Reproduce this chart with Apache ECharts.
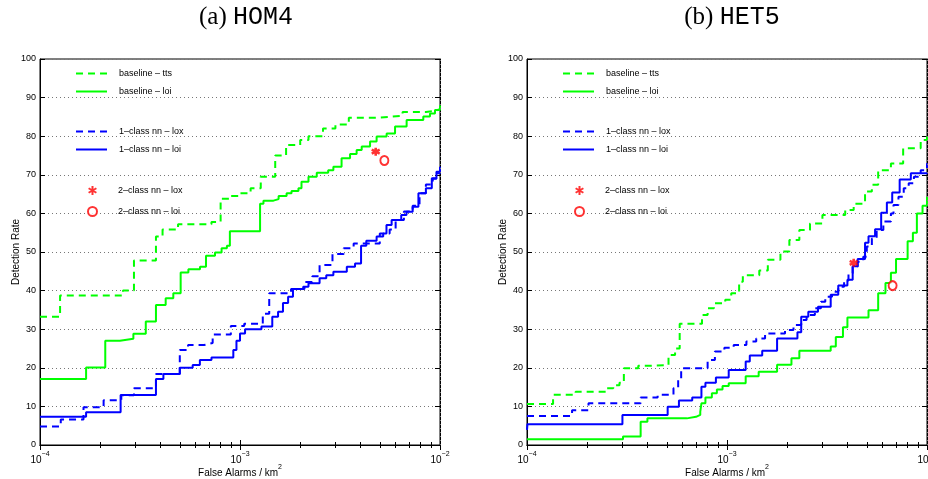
<!DOCTYPE html>
<html>
<head>
<meta charset="utf-8">
<script src="https://cdn.jsdelivr.net/npm/echarts@6/dist/echarts.min.js"></script>
<style>
html, body { margin: 0; padding: 0; background: #fff; }
#box { width: 928px; height: 479px; }
</style>
</head>
<body>
<div id="box"></div>
<script>
// 纵轴刻度 和 竖向网格线位置
var yTicks = [0, 10, 20, 30, 40, 50, 60, 70, 80, 90, 100];
var xGrid = [2e-4, 3e-4, 4e-4, 5e-4, 6e-4, 7e-4, 8e-4, 9e-4, 1e-3,
             2e-3, 3e-3, 4e-3, 5e-3, 6e-3, 7e-3, 8e-3, 9e-3];

// (a) HOM4  —— [虚警, 检测率]
var a_tts = [[1e-4,33.2],[1.26e-4,38.7],[2.6e-4,40],[2.95e-4,47.8],[3.8e-4,54],[4.1e-4,55.8],[4.9e-4,57.2],
  [7.2e-4,57.8],[8.0e-4,63.8],[9.0e-4,64.5],[1.0e-3,65.2],[1.13e-3,66.5],[1.27e-3,69.5],[1.5e-3,75],[1.7e-3,77.7],
  [2.0e-3,79],[2.2e-3,80],[2.6e-3,82],[3.0e-3,83],[3.5e-3,84.8],[5.0e-3,85.3],[6.5e-3,86.3],[8.5e-3,86.5],
  [9.3e-3,87],[1e-2,88]];
var a_loi = [[1e-4,17.1],[1.7e-4,20.1],[2.12e-4,27],[2.51e-4,27.5],[2.93e-4,28.8],[3.38e-4,32],[3.8e-4,36.3],
  [4.25e-4,38],[4.64e-4,39.3],[5.05e-4,44.7],[5.52e-4,45.5],[6.31e-4,46.2],[6.76e-4,49],[7.5e-4,49.9],[8.09e-4,51],
  [8.6e-4,51.6],[8.9e-4,55.4],[1.26e-3,62.5],[1.31e-3,63.3],[1.47e-3,63.7],[1.56e-3,64.5],[1.71e-3,65.2],
  [1.81e-3,65.8],[1.96e-3,66.5],[2.03e-3,68.2],[2.2e-3,69.5],[2.42e-3,70.5],[2.76e-3,71.2],[2.93e-3,72.1],
  [3.22e-3,74.3],[3.55e-3,75.4],[3.83e-3,76.4],[4.06e-3,77.3],[4.47e-3,78.6],[4.82e-3,79.9],[5.41e-3,80.7],
  [5.96e-3,82.5],[6.81e-3,84.2],[8.25e-3,85.1],[8.91e-3,85.9],[9.44e-3,86.8],[1e-2,87.9]];
var a_nnLox = [[1e-4,4.8],[1.27e-4,6.6],[1.65e-4,9.8],[2.08e-4,11.6],[2.55e-4,12.9],[2.95e-4,14.7],[3.8e-4,18.4],
  [5.0e-4,24.6],[5.5e-4,25.9],[6.6e-4,26.4],[7.3e-4,28.6],[9.0e-4,30.8],[1.05e-3,31.4],[1.3e-3,34],[1.4e-3,39.3],
  [1.8e-3,40.4],[2.1e-3,42.2],[2.3e-3,43.7],[2.5e-3,46.6],[2.9e-3,49.5],[3.3e-3,51],[3.7e-3,52.2],[5.0e-3,54.8],
  [5.6e-3,55.8],[6.0e-3,58.3],[6.6e-3,60.5],[7.3e-3,62],[7.9e-3,65.2],[8.5e-3,67.5],[9.2e-3,69],[9.6e-3,70.4],
  [1e-2,72]];
var a_nnLoi = [[1e-4,7.3],[1.7e-4,8.5],[2.53e-4,12.95],[3.8e-4,17.1],[4.14e-4,18.4],[5.0e-4,20],[5.8e-4,20.7],
  [6.3e-4,22],[7.2e-4,22.7],[9.26e-4,24.6],[9.6e-4,27],[1.0e-3,28.9],[1.06e-3,30],[1.28e-3,30.7],[1.45e-3,33.2],
  [1.55e-3,34.5],[1.64e-3,36.8],[1.74e-3,38.4],[1.84e-3,40.4],[2.07e-3,41],[2.2e-3,41.9],[2.5e-3,43.2],
  [2.7e-3,44],[2.93e-3,44.9],[3.42e-3,46.2],[3.76e-3,47],[4.03e-3,51.6],[4.28e-3,52.9],[4.82e-3,54],
  [5.2e-3,54.8],[5.4e-3,57],[5.73e-3,58.3],[6.4e-3,59.6],[6.8e-3,60.4],[7.3e-3,61.7],[7.8e-3,65.2],
  [8.5e-3,66.5],[9.1e-3,69.1],[9.6e-3,70.8],[1e-2,72.1]];
var a_2cLox = [[4.77e-3, 76.0]];
var a_2cLoi = [[5.27e-3, 73.7]];

// (b) HET5
var b_tts = [[1e-4,10.6],[1.35e-4,13],[1.75e-4,13.8],[2.5e-4,14.7],[2.7e-4,15.5],[2.9e-4,16.1],[3.05e-4,19.9],
  [3.6e-4,20.5],[4.0e-4,20.7],[5.1e-4,23.3],[5.5e-4,25],[5.8e-4,31.4],[7.5e-4,33.7],[8.0e-4,35.4],[8.6e-4,36.7],
  [9.8e-4,37.6],[1.05e-3,39.3],[1.15e-3,42.3],[1.2e-3,44],[1.45e-3,45.2],[1.6e-3,48],[1.85e-3,50.1],
  [2.05e-3,53.1],[2.3e-3,55.7],[2.6e-3,57.4],[3.0e-3,59.6],[3.9e-3,60.9],[4.3e-3,62.5],[4.9e-3,65.7],
  [5.3e-3,67.4],[5.7e-3,71.2],[6.6e-3,72.9],[7.6e-3,76.9],[9.3e-3,79],[1e-2,80]];
var b_loi = [[1e-4,1.5],[3.02e-4,2.2],[3.7e-4,6.0],[4.0e-4,6.9],[6.3e-4,7.3],[7.0e-4,7.8],[7.35e-4,8.6],
  [7.45e-4,10.8],[7.8e-4,12.3],[8.4e-4,13.4],[8.9e-4,14.4],[9.5e-4,15.3],[1.02e-3,16],[1.24e-3,17.8],
  [1.44e-3,19],[1.78e-3,20.8],[2.1e-3,22.5],[2.3e-3,24.4],[3.3e-3,25.5],[3.5e-3,28],[3.8e-3,30.5],[4.0e-3,33],
  [5.1e-3,34.9],[5.7e-3,39.3],[6.2e-3,42],[6.6e-3,44.6],[7.0e-3,48.2],[8.0e-3,52.8],[8.5e-3,55],[8.9e-3,60],
  [9.5e-3,62],[1e-2,64.3]];
var b_nnLox = [[1e-4,7.5],[1.68e-4,9.0],[2.03e-4,10.8],[3.7e-4,12.3],[4.5e-4,13.0],[5.4e-4,14.7],[5.7e-4,17],
  [5.9e-4,19.9],[8.0e-4,22],[8.7e-4,24.2],[9.7e-4,25.2],[1.08e-3,25.9],[1.25e-3,26.8],[1.4e-3,27.6],
  [1.55e-3,28.9],[1.95e-3,29.8],[2.15e-3,31.1],[2.35e-3,32.4],[2.5e-3,33.7],[2.75e-3,35.4],[2.95e-3,37.1],
  [3.1e-3,38.4],[3.35e-3,39.7],[3.6e-3,41],[3.85e-3,42.6],[4.05e-3,44.5],[4.25e-3,46.2],[4.5e-3,47.5],
  [4.8e-3,48.8],[5.0e-3,51.4],[5.3e-3,53.5],[5.6e-3,55.7],[6.05e-3,57.9],[6.6e-3,60],[6.8e-3,62.2],
  [7.2e-3,64.3],[7.65e-3,66.5],[8.1e-3,67.8],[8.6e-3,69.5],[9.3e-3,71.2],[1e-2,73]];
var b_nnLoi = [[1e-4,3.9],[1.005e-4,5.4],[3.0e-4,7.8],[5.05e-4,9.9],[5.75e-4,11.5],[6.7e-4,12.3],[7.45e-4,15.1],
  [7.8e-4,16.1],[8.8e-4,17.5],[1.02e-3,19.4],[1.24e-3,21.6],[1.3e-3,23.2],[1.5e-3,24.4],[1.78e-3,27.6],
  [2.25e-3,29.2],[2.35e-3,33.2],[2.55e-3,34.5],[2.85e-3,35.8],[3.3e-3,38.9],[3.6e-3,41.3],[4.0e-3,42.8],
  [4.25e-3,46.3],[4.5e-3,48.2],[4.9e-3,52.4],[5.1e-3,54.1],[5.5e-3,55.9],[5.9e-3,60.2],[6.3e-3,62.8],
  [6.7e-3,65.4],[7.3e-3,68.8],[8.3e-3,70.4],[1e-2,70.6]];
var b_2cLox = [[4.30e-3, 47.2]];
var b_2cLoi = [[6.73e-3, 41.3]];

var GREEN = '#00ff00', BLUE = '#0000ff', RED = '#ff0000';
var FONT = 'Liberation Sans';
var DASH = [7, 5];
// 星号
var STAR = 'path://M5,0L5,10M0.67,2.5L9.33,7.5M0.67,7.5L9.33,2.5';

var supRich = {
    b: { fontSize: 10, color: '#000', fontFamily: FONT, verticalAlign: 'bottom', lineHeight: 14 },
    s: { fontSize: 7, color: '#000', fontFamily: FONT, verticalAlign: 'top', lineHeight: 14 }
};

function expLabel(value) {
    var e = Math.round(Math.log(value) / Math.LN10);
    return '{b|10}{s|' + String(e).replace('-', '\u2212') + '}';
}

var panels = [
    { left: 40, title: '(a) ', code: 'HOM4', cx: 246, tts: a_tts, loi: a_loi, lox1: a_nnLox, loi1: a_nnLoi, lox2: a_2cLox, loi2: a_2cLoi },
    { left: 527, title: '(b) ', code: 'HET5', cx: 732, tts: b_tts, loi: b_loi, lox1: b_nnLox, loi1: b_nnLoi, lox2: b_2cLox, loi2: b_2cLoi }
];

var option = {
    animation: false,
    textStyle: { fontFamily: FONT },
    grid: [], xAxis: [], yAxis: [], series: [], legend: [], graphic: []
};

panels.forEach(function (p, i) {
    option.grid.push({ left: p.left, top: 59, width: 400, height: 386, show: true,
        outerBoundsMode: 'none', containLabel: false,
        borderColor: '#000', borderWidth: 1 });

    var tick = { inside: true, length: 5, lineStyle: { color: '#000', width: 1 } };
    var minor = { show: true, splitNumber: 9, length: 3, lineStyle: { color: '#000', width: 1 } };

    option.xAxis.push({
        type: 'log', logBase: 10, min: 1e-4, max: 1e-2, gridIndex: i, position: 'bottom',
        axisLine: { lineStyle: { color: '#000', width: 1 } },
        axisTick: tick, minorTick: minor, splitLine: { show: false },
        axisLabel: { formatter: expLabel, rich: supRich, margin: 6 },
        name: '{b|False Alarms / km}{s|2}', nameLocation: 'middle', nameGap: 19,
        nameMoveOverlap: false,
        nameTextStyle: { rich: supRich }
    });
    option.xAxis.push({
        type: 'log', logBase: 10, min: 1e-4, max: 1e-2, gridIndex: i, position: 'top',
        axisLine: { lineStyle: { color: '#000', width: 1 } },
        axisTick: tick, minorTick: minor, splitLine: { show: false }, axisLabel: { show: false }
    });
    option.yAxis.push({
        type: 'value', min: 0, max: 100, interval: 10, gridIndex: i,
        axisLine: { show: true, lineStyle: { color: '#000', width: 1 } },
        axisTick: tick,
        axisLabel: { fontSize: 9, color: '#000', margin: 4 },
        splitLine: { show: true, lineStyle: { color: '#777', type: [1, 3], width: 1 } },
        name: 'Detection Rate', nameLocation: 'middle', nameGap: 19,
        nameMoveOverlap: false,
        nameTextStyle: { fontSize: 10, color: '#000' }
    });
    option.yAxis.push({
        type: 'value', min: 0, max: 100, interval: 10, gridIndex: i, position: 'right',
        axisLine: { show: true, lineStyle: { color: '#000', width: 1 } },
        axisTick: tick, axisLabel: { show: false }, splitLine: { show: false }
    });

    var xi = 2 * i, yi = 2 * i;
    // 竖向点状网格线
    option.series.push({
        type: 'line', xAxisIndex: xi, yAxisIndex: yi, data: [], silent: true, z: 1,
        markLine: {
            silent: true, symbol: 'none', label: { show: false }, animation: false,
            lineStyle: { color: '#777', type: [1, 3], width: 1 },
            data: xGrid.map(function (v) { return { xAxis: v }; })
        }
    });

    function stepLine(name, data, color, dashed) {
        return {
            name: name, type: 'line', xAxisIndex: xi, yAxisIndex: yi, data: data, step: 'end',
            symbol: 'none', z: 3,
            lineStyle: { color: color, width: 2, type: dashed ? DASH : 'solid' },
            itemStyle: { color: color }
        };
    }
    option.series.push(stepLine('baseline \u2013 tts', p.tts, GREEN, true));
    option.series.push(stepLine('baseline \u2013 loi', p.loi, GREEN, false));
    option.series.push(stepLine('1\u2013class nn \u2013 lox', p.lox1, BLUE, true));
    option.series.push(stepLine('1\u2013class nn \u2013 loi', p.loi1, BLUE, false));
    option.series.push({
        name: '2\u2013class nn \u2013 lox', type: 'scatter', xAxisIndex: xi, yAxisIndex: yi,
        data: p.lox2, symbol: STAR, symbolSize: 8, z: 4,
        itemStyle: { color: RED, borderColor: RED, borderWidth: 2.6 }
    });
    option.series.push({
        name: '2\u2013class nn \u2013 loi', type: 'scatter', xAxisIndex: xi, yAxisIndex: yi,
        data: p.loi2, symbol: 'emptyCircle', symbolSize: [8, 9], z: 4,
        itemStyle: { color: RED, borderColor: RED, borderWidth: 1.6 }
    });

    // 图例 分三组 (线条图例隐藏圆点)
    var groups = [
        ['baseline \u2013 tts', 'baseline \u2013 loi'],
        ['1\u2013class nn \u2013 lox', '1\u2013class nn \u2013 loi'],
        ['2\u2013class nn \u2013 lox', '2\u2013class nn \u2013 loi']
    ];
    var tops = [69, 127, 185];
    groups.forEach(function (g, k) {
        var isMark = k === 2;
        option.legend.push({
            data: g, orient: 'vertical', left: p.left + (isMark ? 47 : 35), top: tops[k],
            itemWidth: 31, itemHeight: isMark ? 9 : 10, itemGap: isMark ? 10 : 9,
            selectedMode: false, padding: 0,
            itemStyle: isMark ? {} : { opacity: 0 },
            textStyle: { fontSize: 9, color: '#000', fontFamily: FONT, padding: [0, 0, 0, isMark ? 5 : 7] }
        });
    });

    option.graphic.push({
        type: 'text', x: p.cx, y: 17,
        style: {
            text: '{a|' + p.title + '}{b|' + p.code + '}',
            align: 'center', verticalAlign: 'middle',
            rich: {
                a: { fontFamily: 'Liberation Serif', fontSize: 25, fill: '#000', color: '#000' },
                b: { fontFamily: 'Liberation Mono', fontSize: 25, fill: '#000', color: '#000' }
            }
        }
    });
});

var myChart = echarts.init(document.getElementById('box'));
myChart.setOption(option);
</script>
</body>
</html>
